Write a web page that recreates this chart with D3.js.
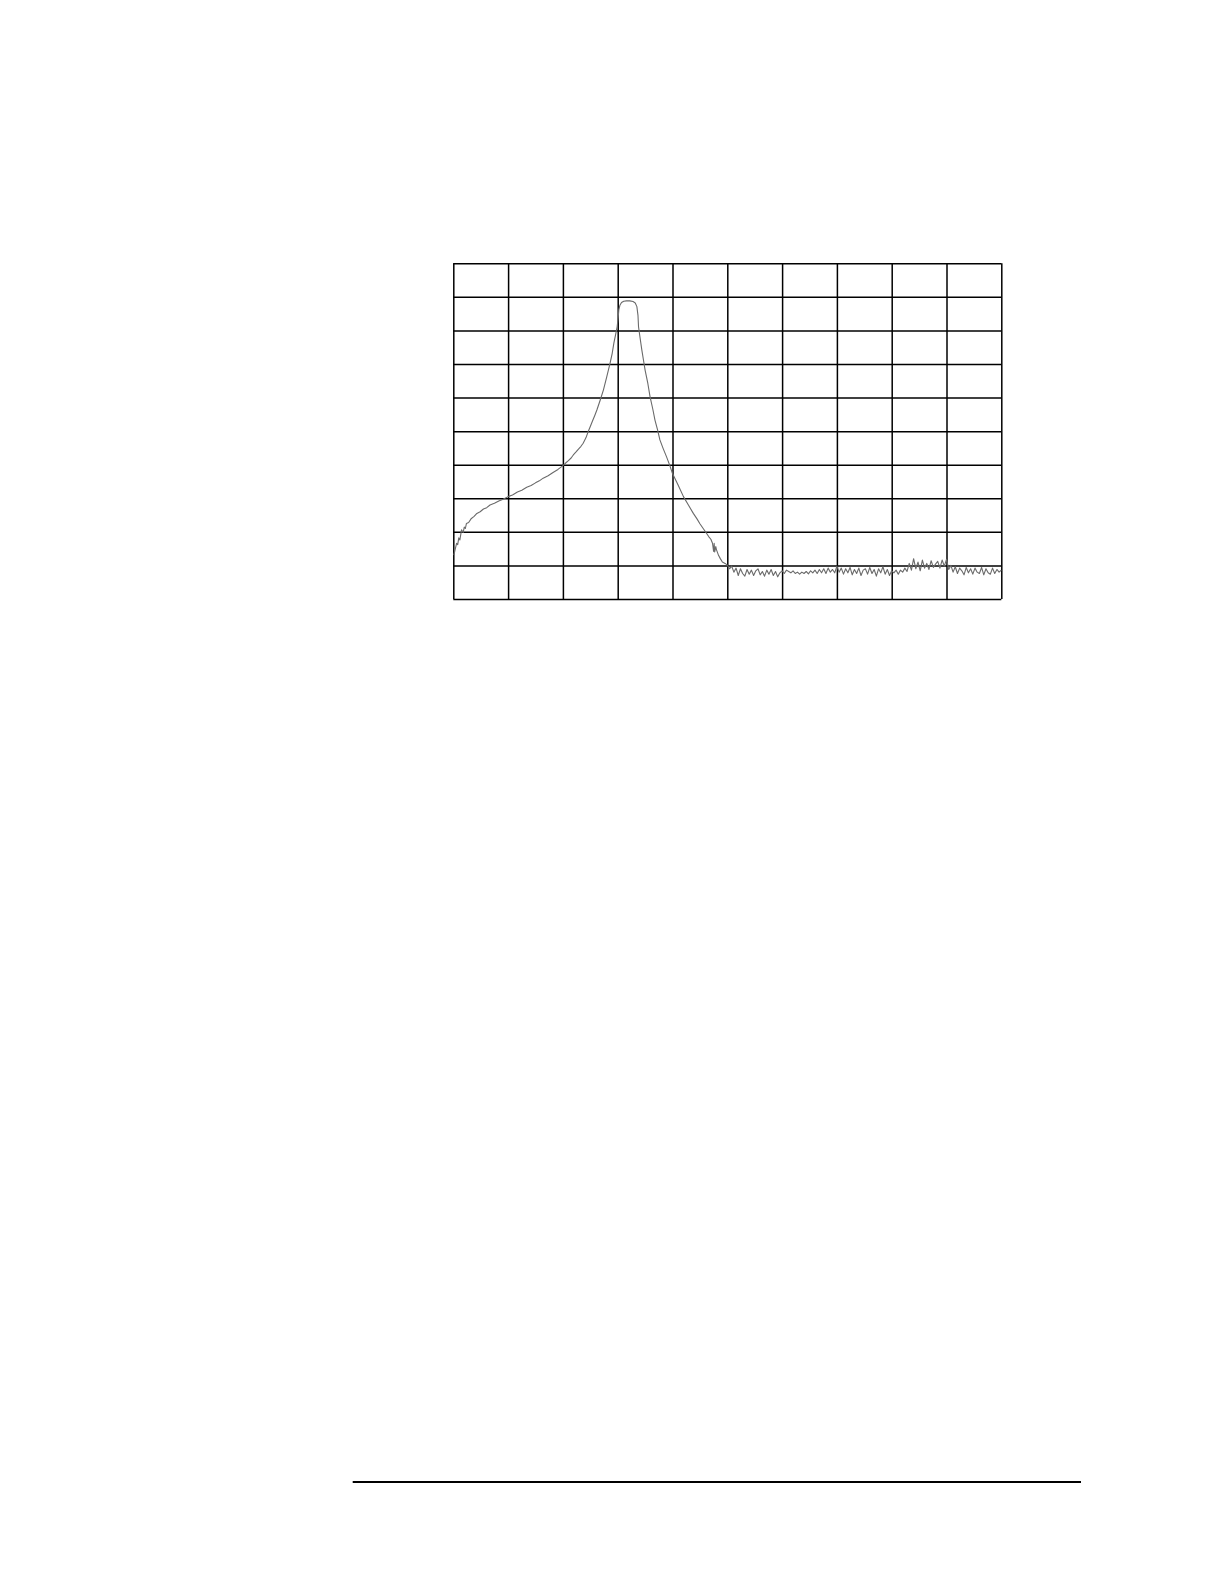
<!DOCTYPE html>
<html>
<head>
<meta charset="utf-8">
<script src="https://cdn.jsdelivr.net/npm/d3@7/dist/d3.min.js"></script>
<style>
  html, body { margin: 0; padding: 0; background: #fff; }
  svg { display: block; }
</style>
</head>
<body>
<script>
// Grid divisions (screen divisions of a spectrum display)
const xDivisions = [0,1,2,3,4,5,6,7,8,9,10];
const yDivisions = [0,1,2,3,4,5,6,7,8,9,10];

// Main response trace (x in divisions, y in divisions from bottom)
const traceX = [0.01,0.03,0.06,0.08,0.10,0.12,0.15,0.18,0.20,0.22,0.24,0.28,0.33,0.38,0.43,0.49,0.55,0.61,0.67,0.75,0.83,0.91,1.00,1.08,1.17,1.25,1.34,1.42,1.50,1.57,1.64,1.73,1.82,1.91,1.99,2.05,2.10,2.15,2.19,2.24,2.28,2.33,2.37,2.42,2.46,2.50,2.54,2.58,2.62,2.68,2.74,2.80,2.86,2.90,2.93,2.96,2.99,3.01,3.02,3.04,3.07,3.11,3.16,3.22,3.28,3.32,3.35,3.37,3.38,3.41,3.44,3.47,3.50,3.55,3.59,3.64,3.68,3.73,3.77,3.83,3.89,3.95,4.00,4.10,4.20,4.29,4.38,4.45,4.50,4.56,4.62,4.66,4.70,4.73,4.75,4.76,4.77,4.79,4.80,4.84,4.87,4.91,4.96];
const traceY = [1.31,1.45,1.66,1.62,1.82,1.76,2.06,1.98,2.14,2.10,2.25,2.28,2.40,2.46,2.55,2.60,2.68,2.72,2.80,2.85,2.92,2.97,3.05,3.10,3.19,3.24,3.33,3.38,3.46,3.52,3.60,3.67,3.77,3.86,3.96,4.05,4.12,4.20,4.29,4.38,4.46,4.55,4.64,4.80,4.98,5.14,5.30,5.46,5.63,5.92,6.23,6.62,7.02,7.32,7.62,7.86,8.11,8.40,8.61,8.75,8.83,8.87,8.88,8.88,8.86,8.82,8.71,8.45,8.11,7.76,7.42,7.12,6.82,6.42,6.03,5.66,5.33,5.02,4.74,4.48,4.24,3.98,3.74,3.40,3.05,2.80,2.55,2.38,2.24,2.10,1.96,1.86,1.78,1.66,1.42,1.66,1.40,1.56,1.48,1.30,1.21,1.10,1.06];

// Noise floor from 5.0 to 10.0 divisions, one reading every 0.04 division
const noiseStart = 5.0;
const noiseStep = 0.04;
const noiseY = [
  1.01,0.90,0.98,0.80,0.92,0.70,0.90,0.76,0.68,0.88,0.74,0.86,0.70,0.84,0.90,0.72,0.82,0.68,0.86,0.74,0.88,0.70,0.82,0.66,0.78,
  0.84,0.76,0.86,0.82,0.78,0.84,0.76,0.80,0.74,0.80,0.76,0.82,0.75,0.84,0.78,0.86,0.76,0.88,0.78,0.90,0.76,0.92,0.80,0.88,0.78,
  0.98,0.80,0.92,0.74,0.90,0.78,0.94,0.72,0.88,0.76,0.92,0.70,0.86,0.90,0.74,0.94,0.76,0.88,0.68,0.90,0.78,0.96,0.74,0.88,0.70,
  0.84,0.78,0.86,0.74,0.86,0.80,0.92,0.82,1.06,0.86,1.20,0.90,1.10,0.84,1.16,0.92,1.06,0.88,1.14,0.94,1.04,1.12,0.92,1.16,0.98,
  1.18,0.88,1.00,0.80,0.96,0.76,0.92,0.84,0.72,0.94,0.78,0.90,0.74,0.92,0.80,0.76,0.94,0.72,0.90,0.78,0.74,0.92,0.76,0.88,0.80,
  0.86
];

const W = 1224, H = 1582;
const svg = d3.select("body").append("svg").attr("width", W).attr("height", H);
svg.append("rect").attr("width", W).attr("height", H).attr("fill", "#fff");

const gLeft = 453.3, gRight = 1001.3, gTop = 263.3, gBottom = 599;
const x = d3.scaleLinear().domain([0, 10]).range([gLeft, gRight]);
const y = d3.scaleLinear().domain([0, 10]).range([gBottom, gTop]);

// Vertical grid lines
const gx = svg.append("g").attr("transform", `translate(0,${gBottom})`)
  .call(d3.axisBottom(x).tickValues(xDivisions).tickSize(-(gBottom - gTop)).tickFormat(""));
gx.select(".domain").remove();
gx.selectAll(".tick line").attr("stroke", "#000").attr("stroke-width", 1.5);

// Horizontal grid lines
const gy = svg.append("g").attr("transform", `translate(${gLeft},0)`)
  .call(d3.axisLeft(y).tickValues(yDivisions).tickSize(-(gRight - gLeft)).tickFormat(""));
gy.select(".domain").remove();
gy.selectAll(".tick line").attr("stroke", "#000").attr("stroke-width", 1.5);

// Build trace
const pts = traceX.map((v, i) => [v, traceY[i]]);
noiseY.forEach((v, i) => pts.push([noiseStart + i * noiseStep, v]));

const line = d3.line().x(d => x(d[0])).y(d => y(d[1]));
svg.append("path").datum(pts)
  .attr("d", line)
  .attr("fill", "none")
  .attr("stroke", "#6a6a6a")
  .attr("stroke-width", 1.1)
  .attr("stroke-linejoin", "round");

// Footer rule
svg.append("line")
  .attr("x1", 352.7).attr("x2", 1081)
  .attr("y1", 1482).attr("y2", 1482)
  .attr("stroke", "#000").attr("stroke-width", 2.2);
</script>
</body>
</html>
